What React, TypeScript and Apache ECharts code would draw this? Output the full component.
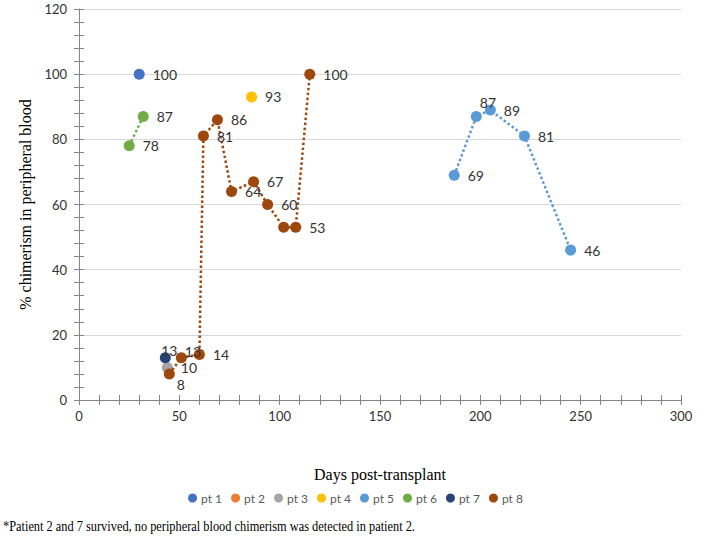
import React, { useEffect, useRef } from "react";
import * as echarts from "echarts";

const seriesNames = ["pt 1", "pt 2", "pt 3", "pt 4", "pt 5", "pt 6", "pt 7", "pt 8"];
const colors = ["#4472C4", "#ED7D31", "#A5A5A5", "#FFC000", "#5B9BD5", "#70AD47", "#264478", "#9E480E"];

const pt1Days = [30];
const pt1Chim = [100];
const pt2Days: number[] = [];
const pt2Chim: number[] = [];
const pt3Days = [44];
const pt3Chim = [10];
const pt4Days = [86];
const pt4Chim = [93];
const pt5Days = [187, 198, 205, 222, 245];
const pt5Chim = [69, 87, 89, 81, 46];
const pt6Days = [25, 32];
const pt6Chim = [78, 87];
const pt7Days = [43];
const pt7Chim = [13];
const pt8Days = [45, 51, 60, 62, 69, 76, 87, 94, 102, 108, 115];
const pt8Chim = [8, 13, 14, 81, 86, 64, 67, 60, 53, 53, 100];

const allDays = [pt1Days, pt2Days, pt3Days, pt4Days, pt5Days, pt6Days, pt7Days, pt8Days];
const allChim = [pt1Chim, pt2Chim, pt3Chim, pt4Chim, pt5Chim, pt6Chim, pt7Chim, pt8Chim];

// label placement tweaks (style only): key "series-index"
const labelTweaks: Record<string, any> = {
  "7-0": { offset: [-6, 11] },
  "7-1": { offset: [-10, -6] },
  "7-8": { show: false },
  "6-0": { position: "top", distance: 0, offset: [4, 5] },
  "4-1": { offset: [-10, -14] },
};

const FONT = "Lato, 'Open Sans', sans-serif";
const SERIF = "'Liberation Serif', 'DejaVu Serif', serif";

export default function App() {
  const ref = useRef<HTMLDivElement>(null);
  useEffect(() => {
    if (!ref.current) return;
    const chart = echarts.init(ref.current, undefined, { renderer: "svg" });
    const series = seriesNames.map((name, s) => ({
      name,
      type: "line",
      data: allDays[s].map((d, i) => {
        const tw = labelTweaks[`${s}-${i}`];
        return tw ? { value: [d, allChim[s][i]], label: tw } : { value: [d, allChim[s][i]] };
      }),
      symbol: "circle",
      symbolSize: 11,
      itemStyle: { color: colors[s] },
      lineStyle: { color: colors[s], width: 2.5, type: [2.5, 2.5] },
      label: {
        show: true,
        position: "right",
        distance: 8,
        fontFamily: FONT,
        fontSize: 14,
        color: "#333333",
        formatter: (p: any) => String(p.value[1]),
      },
      z: s === 7 ? 3 : 2,
    }));

    const axisLine = { show: true, lineStyle: { color: "#868686", width: 1 } };
    const tickStyle = { color: "#868686" };
    const option: any = {
      animation: false,
      color: colors,
      grid: { left: 79, right: 30, top: 9, bottom: 157, containLabel: false },
      legend: {
        data: seriesNames,
        bottom: 48,
        left: "center",
        icon: "circle",
        itemWidth: 9,
        itemHeight: 9,
        itemGap: 9,
        textStyle: { fontFamily: FONT, fontSize: 12, color: "#595959", padding: [0, 0, 0, -1] },
      },
      xAxis: [
        {
          type: "value",
          min: 0,
          max: 300,
          interval: 50,
          name: "Days post-transplant",
          nameLocation: "middle",
          nameGap: 66,
          nameTextStyle: { fontFamily: SERIF, fontSize: 16, color: "#000" },
          axisLine,
          axisTick: { show: true, length: 5, lineStyle: tickStyle },
          minorTick: { show: true, splitNumber: 5, length: 5, lineStyle: tickStyle },
          splitLine: { show: false },
          axisLabel: { fontFamily: FONT, fontSize: 13, color: "#333333", margin: 9 },
        },
        {
          type: "value",
          min: 0,
          max: 300,
          interval: 50,
          position: "bottom",
          axisLine: { show: false },
          axisTick: { show: true, inside: true, length: 5, lineStyle: tickStyle },
          minorTick: { show: true, splitNumber: 5, length: 5, lineStyle: tickStyle },
          splitLine: { show: false },
          axisLabel: { show: false },
        },
      ],
      yAxis: [
        {
          type: "value",
          min: 0,
          max: 120,
          interval: 20,
          name: "% chimerism in peripheral blood",
          nameLocation: "middle",
          nameGap: 38,
          nameTextStyle: { fontFamily: SERIF, fontSize: 16, color: "#000" },
          axisLine,
          axisTick: { show: true, length: 5, lineStyle: tickStyle },
          minorTick: { show: true, splitNumber: 5, length: 5, lineStyle: tickStyle },
          splitLine: { show: true, lineStyle: { color: "#D9D9D9", width: 1 } },
          axisLabel: { fontFamily: FONT, fontSize: 13, color: "#333333", margin: 12 },
        },
        {
          type: "value",
          min: 0,
          max: 120,
          interval: 20,
          position: "left",
          axisLine: { show: false },
          axisTick: { show: true, inside: true, length: 5, lineStyle: tickStyle },
          minorTick: { show: true, splitNumber: 5, length: 5, lineStyle: tickStyle },
          splitLine: { show: false },
          axisLabel: { show: false },
        },
      ],
      series,
      graphic: [
        {
          type: "text",
          x: 3,
          y: 519,
          scaleX: 0.824,
          style: {
            text: "*Patient 2 and 7 survived, no peripheral blood chimerism was detected in patient 2.",
            fontFamily: SERIF,
            fontSize: 15,
            fill: "#000",
          },
        },
      ],
    };
    chart.setOption(option);
    return () => chart.dispose();
  }, []);
  return (
    <div
      ref={ref}
      style={{ position: "absolute", left: 0, top: 0, width: 711, height: 557 }}
    />
  );
}
